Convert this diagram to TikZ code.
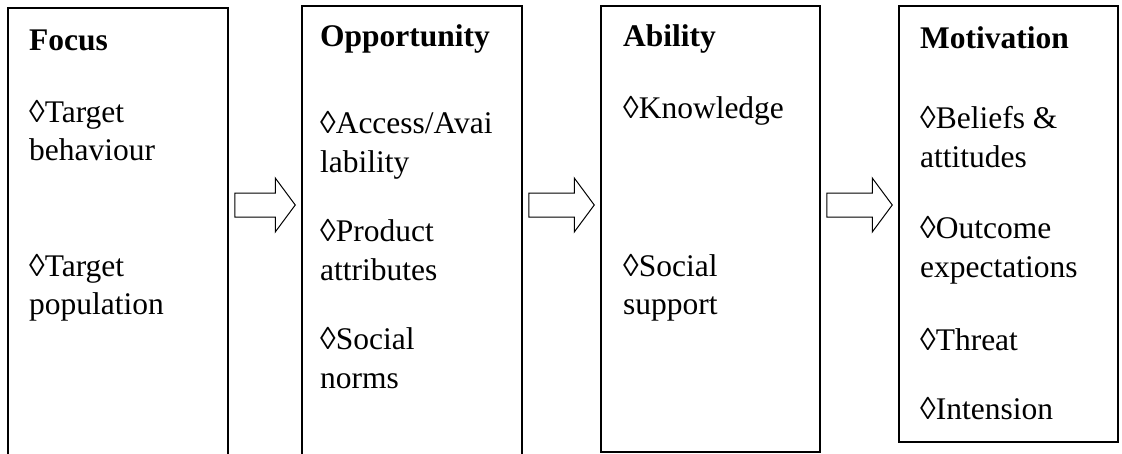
\documentclass[tikz,border=0pt]{standalone}
\usepackage{fontspec}
\setmainfont{Liberation Serif}
\usetikzlibrary{calc}
\newcommand\blkarrow[2]{%
  \draw[blockarrow] ($(#1)+(0,-12)$) -- ($(#2)+(-20,-12)$) -- ($(#2)+(-20,-27)$)
    -- (#2) -- ($(#2)+(-20,27)$) -- ($(#2)+(-20,12)$) -- ($(#1)+(0,12)$) -- cycle;}
\begin{document}
\begin{tikzpicture}[x=1pt,y=-1pt,
  box/.style={draw, line width=1.5pt, inner sep=0pt, fill=none},
  txt/.style={anchor=base west, inner sep=0pt, font=\fontsize{31.5}{36}\selectfont},
  ttl/.style={anchor=base west, inner sep=0pt, font=\fontsize{31.5}{36}\selectfont\bfseries},
  blockarrow/.style={draw, line width=1pt, fill=white, line join=miter}]
\useasboundingbox (0,0) rectangle (1122,453);
\clip (0,0) rectangle (1122,453);
% boxes
\node[box, minimum width=220, minimum height=462] (focus) at (118,239) {};
\node[box, minimum width=220, minimum height=464] (opp) at (412,238) {};
\node[box, minimum width=219, minimum height=446] (abil) at (710.5,229) {};
\node[box, minimum width=219, minimum height=436] (moti) at (1008.5,224) {};
% arrows
\coordinate (lvl) at (0,205);
\coordinate (a1s) at ($(focus.east |- lvl)+(6,0)$);
\coordinate (a1e) at ($(opp.west |- lvl)+(-6,0)$);
\coordinate (a2s) at ($(opp.east |- lvl)+(6,0)$);
\coordinate (a2e) at ($(abil.west |- lvl)+(-6,0)$);
\coordinate (a3s) at ($(abil.east |- lvl)+(6,0)$);
\coordinate (a3e) at ($(moti.west |- lvl)+(-6,0)$);
\blkarrow{a1s}{a1e}
\blkarrow{a2s}{a2e}
\blkarrow{a3s}{a3e}
% Focus
\node[ttl] (f0) at (29,50) {Focus};
\node[txt] (f1) at (29,122) {◊Target};
\node[txt] (f2) at (29,160) {behaviour};
\node[txt] (f3) at (29,276) {◊Target};
\node[txt] (f4) at (29,314) {population};
% Opportunity
\node[ttl] (o0) at (320,46) {Opportunity};
\node[txt] (o1) at (320,133) {◊Access/Avai};
\node[txt] (o2) at (320,172) {lability};
\node[txt] (o3) at (320,241) {◊Product};
\node[txt] (o4) at (320,280) {attributes};
\node[txt] (o5) at (320,349) {◊Social};
\node[txt] (o6) at (320,388) {norms};
% Ability
\node[ttl] (b0) at (623,46) {Ability};
\node[txt] (b1) at (623,118) {◊Knowledge};
\node[txt] (b2) at (623,276) {◊Social};
\node[txt] (b3) at (623,314) {support};
% Motivation
\node[ttl] (m0) at (920,48) {Motivation};
\node[txt] (m1) at (920,128) {◊Beliefs \&};
\node[txt] (m2) at (920,167) {attitudes};
\node[txt] (m3) at (920,238) {◊Outcome};
\node[txt] (m4) at (920,277) {expectations};
\node[txt] (m5) at (920,350) {◊Threat};
\node[txt] (m6) at (920,419) {◊Intension};
\end{tikzpicture}
\end{document}
